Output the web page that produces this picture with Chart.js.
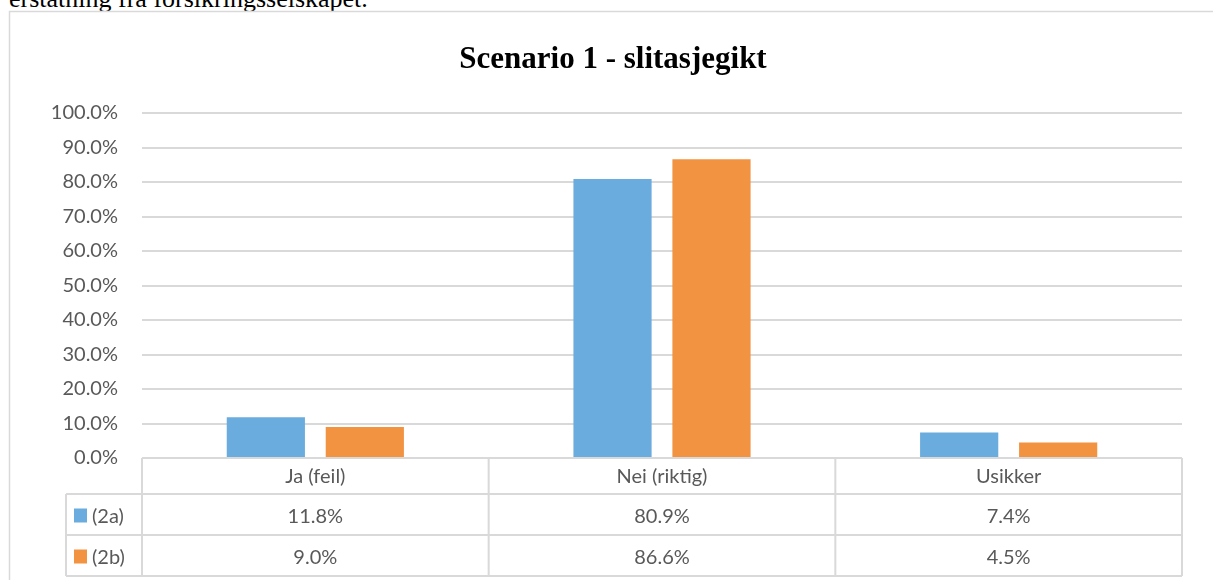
<!DOCTYPE html>
<html>
<head>
<meta charset="utf-8">
<script src="https://cdn.jsdelivr.net/npm/chart.js@4.4.1/dist/chart.umd.min.js"></script>
<style>
  body { margin: 0; background: #fff; overflow: hidden; }
  #wrap { position: relative; width: 1213px; height: 580px; }
  #intro {
    position: absolute; left: 9px; top: -16px;
    font-family: "Liberation Serif", "Times New Roman", serif;
    font-size: 26px; color: #000; white-space: nowrap;
  }
  canvas { position: absolute; left: 0; top: 0; }
</style>
</head>
<body>
<div id="wrap">
  <div id="intro">erstatning fra forsikringsselskapet.</div>
  <canvas id="chart" width="1213" height="580"></canvas>
</div>
<script>
// Data
const categories = ["Ja (feil)", "Nei (riktig)", "Usikker"];
const seriesNames = ["(2a)", "(2b)"];
const values2a = [11.8, 80.9, 7.4];
const values2b = [9.0, 86.6, 4.5];
const chartTitle = "Scenario 1 - slitasjegikt";

const blue = "#6aacde";
const orange = "#f29341";
const gridColor = "#d9d9d9";
const textColor = "#595959";
const labelFont = "20px Lato, 'Open Sans', sans-serif";

// Frame, title and data table drawn around the plot
const extrasPlugin = {
  id: "extras",
  afterDraw(chart) {
    const ctx = chart.ctx;
    const area = chart.chartArea;
    const x = chart.scales.x;
    ctx.save();

    // outer frame
    ctx.strokeStyle = gridColor;
    ctx.lineWidth = 1.5;
    ctx.beginPath();
    ctx.moveTo(9.5, 600);
    ctx.lineTo(9.5, 11.5);
    ctx.lineTo(1213, 11.5);
    ctx.stroke();

    // title
    ctx.fillStyle = "#000";
    ctx.font = "bold 31px 'Liberation Serif', 'Times New Roman', serif";
    ctx.textAlign = "center";
    ctx.textBaseline = "middle";
    ctx.fillText(chartTitle, 613, 60);

    // data table
    const top = area.bottom;
    const rowH = [36, 41, 41];
    const y1 = top + rowH[0];
    const y2 = y1 + rowH[1];
    const y3 = y2 + rowH[2];
    const legLeft = 66;
    const half = (x.getPixelForTick(1) - x.getPixelForTick(0)) / 2;

    ctx.strokeStyle = gridColor;
    ctx.lineWidth = 2;
    ctx.beginPath();
    ctx.moveTo(area.left, top); ctx.lineTo(area.right, top);
    [y1, y2, y3].forEach(yy => { ctx.moveTo(legLeft, yy); ctx.lineTo(area.right, yy); });
    ctx.moveTo(legLeft, y1); ctx.lineTo(legLeft, y3);
    ctx.moveTo(area.left, top); ctx.lineTo(area.left, y3);
    categories.forEach((c, i) => {
      const edge = x.getPixelForTick(i) + half;
      ctx.moveTo(edge, top); ctx.lineTo(edge, y3);
    });
    ctx.stroke();

    ctx.font = labelFont;
    ctx.fillStyle = textColor;
    ctx.textAlign = "center";
    ctx.textBaseline = "middle";
    const rowMid = [top + rowH[0] / 2, y1 + rowH[1] / 2, y2 + rowH[2] / 2];
    categories.forEach((c, i) => {
      const cx = x.getPixelForTick(i);
      ctx.fillText(c, cx, rowMid[0] + 1);
      chart.data.datasets.forEach((ds, d) => {
        ctx.fillText(ds.data[i].toFixed(1) + "%", cx, rowMid[d + 1] + 2);
      });
    });

    // legend keys in the table
    chart.data.datasets.forEach((ds, d) => {
      ctx.fillStyle = ds.backgroundColor;
      ctx.fillRect(74, rowMid[d + 1] - 6, 13, 14);
      ctx.fillStyle = textColor;
      ctx.textAlign = "left";
      ctx.fillText(ds.label, 92, rowMid[d + 1] + 2);
    });

    ctx.restore();
  }
};

new Chart(document.getElementById("chart"), {
  type: "bar",
  data: {
    labels: categories,
    datasets: [
      { label: seriesNames[0], data: values2a, backgroundColor: blue },
      { label: seriesNames[1], data: values2b, backgroundColor: orange }
    ]
  },
  options: {
    responsive: false,
    animation: false,
    layout: { padding: { top: 113, bottom: 122, left: 0, right: 31 } },
    datasets: {
      bar: { categoryPercentage: 0.571, barPercentage: 0.79 }
    },
    plugins: {
      legend: { display: false },
      title: { display: false },
      tooltip: { enabled: false }
    },
    scales: {
      x: { display: false },
      y: {
        min: 0,
        max: 100,
        afterFit(scale) { scale.width = 142; },
        border: { display: false },
        grid: { color: gridColor, lineWidth: 2, drawTicks: false },
        ticks: {
          stepSize: 10,
          padding: 24,
          color: textColor,
          font: { family: "Lato, 'Open Sans', sans-serif", size: 20 },
          callback: v => v.toFixed(1) + "%"
        }
      }
    }
  },
  plugins: [extrasPlugin]
});
</script>
</body>
</html>
